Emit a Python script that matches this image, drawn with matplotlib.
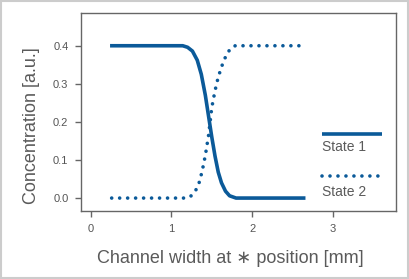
import matplotlib
matplotlib.use("Agg")
from matplotlib import pyplot as plt
from matplotlib.patches import Rectangle

plt.rcParams['font.family'] = ['Liberation Sans', 'DejaVu Sans']

blue = '#0b5a99'
grey = '#5a5a5a'

# State 1 (solid)
state1_x = [0.24, 1.14, 1.20, 1.26, 1.32, 1.37, 1.42, 1.46, 1.50, 1.54, 1.58, 1.62, 1.67, 1.72, 1.80, 2.66]
state1_y = [0.400, 0.400, 0.396, 0.386, 0.362, 0.325, 0.270, 0.215, 0.160, 0.110, 0.068, 0.040, 0.018, 0.006, 0.000, 0.000]

# State 2 (dotted)
state2_x = [0.26, 1.18, 1.24, 1.30, 1.34, 1.38, 1.42, 1.46, 1.50, 1.54, 1.58, 1.63, 1.68, 1.73, 1.79, 2.67]
state2_y = [0.000, 0.000, 0.005, 0.020, 0.038, 0.070, 0.112, 0.165, 0.238, 0.282, 0.318, 0.350, 0.376, 0.392, 0.400, 0.400]

x_ticks = [0, 1, 2, 3]
y_ticks = [0.0, 0.1, 0.2, 0.3, 0.4]
labels = ["State 1", "State 2"]

fig = plt.figure(figsize=(4.09, 2.79), dpi=100)
ax = fig.add_axes([0.198, 0.2437, 0.770, 0.7097])

dotted = (0, (0.01, 2.2))
ax.plot(state1_x, state1_y, color=blue, lw=2.6, solid_capstyle='butt')
ax.plot(state2_x, state2_y, color=blue, lw=2.6, linestyle=dotted, dash_capstyle='round')

ax.set_xlim(-0.12, 3.78)
ax.set_ylim(-0.034, 0.486)
ax.set_xticks(x_ticks)
ax.set_xticklabels([str(t) for t in x_ticks])
ax.set_yticks(y_ticks)
ax.set_yticklabels([f"{t:.1f}" for t in y_ticks])
ax.tick_params(direction='out', length=4, width=1, color='#666666',
               labelcolor='#555555', labelsize=8, pad=5)
for s in ax.spines.values():
    s.set_color('#666666')
    s.set_linewidth(1)

ax.set_xlabel("Channel width at \u2217 position [mm]", fontsize=13, color=grey)
ax.set_ylabel("Concentration [a.u.]", fontsize=13, color=grey)
ax.xaxis.set_label_coords(0.4746, -0.197)
ax.yaxis.set_label_coords(-0.130, 0.432)

# legend keys stacked above their labels
key_y = [0.389, 0.177]
text_y = [0.323, 0.096]
styles = ['-', dotted]
for ky, ty, ls, lab in zip(key_y, text_y, styles, labels):
    ax.plot([0.765, 0.956], [ky, ky], transform=ax.transAxes, color=blue, lw=2.6,
            linestyle=ls, dash_capstyle='round', solid_capstyle='butt', clip_on=False)
    ax.text(0.765, ty, lab, transform=ax.transAxes, fontsize=10, color=grey,
            ha='left', va='center')

fig.patches.append(Rectangle((0.002, 0.003), 0.996, 0.994, transform=fig.transFigure,
                             fill=False, edgecolor='#cccccc', lw=1.5))

fig.savefig("out.png", dpi=100)
